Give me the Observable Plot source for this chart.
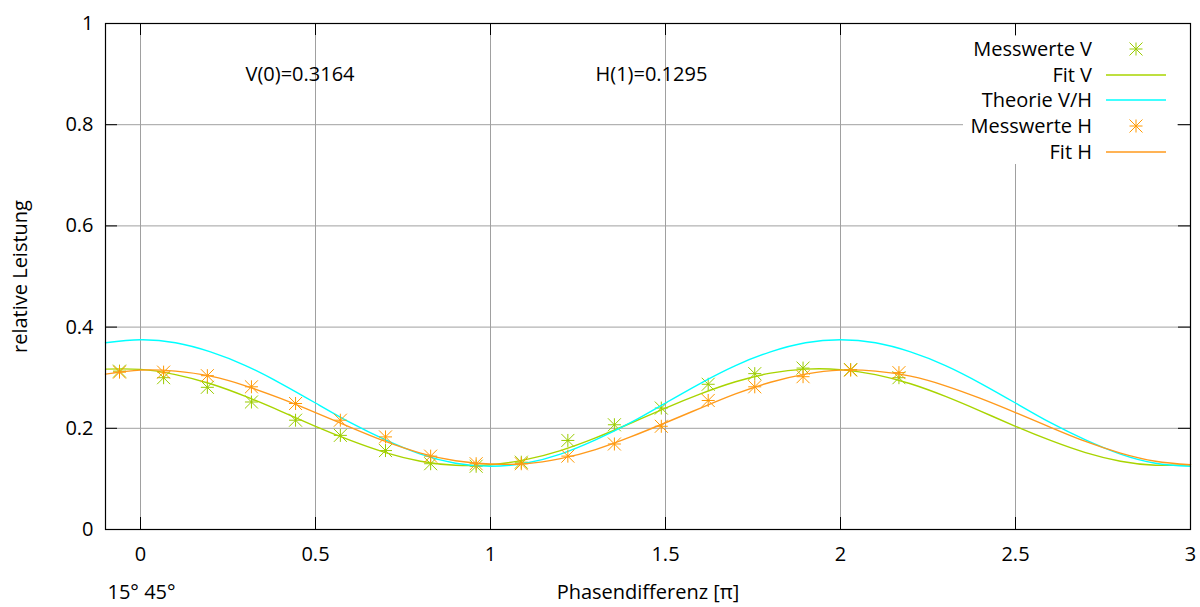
<!DOCTYPE html>
<html>
<head>
<meta charset="utf-8">
<script src="https://cdn.jsdelivr.net/npm/d3@7"></script>
<script src="https://cdn.jsdelivr.net/npm/@observablehq/plot@0.6"></script>
<style>
  body { margin: 0; background: #fff; }
  #chart { position: relative; width: 1200px; height: 607px; font-family: "Open Sans", sans-serif; }
  #legend { position: absolute; left: 963px; top: 36px; width: 214px; height: 128px; background: #fff; }
  #legend .row { position: absolute; left: 0; width: 214px; height: 26px; }
  #legend .lab { position: absolute; right: 85px; top: 0; line-height: 26px; font-size: 20px; color: #000; white-space: nowrap; }
  #legend svg { position: absolute; left: 140px; top: 0; }
</style>
</head>
<body>
<div id="chart"></div>
<script>
// Messpunkte (Phasendifferenz in Einheiten von π)
const phasePts = [-0.060, 0.066, 0.191, 0.317, 0.443, 0.571, 0.700, 0.829, 0.959, 1.088, 1.221, 1.354, 1.488, 1.622, 1.755, 1.893, 2.029, 2.167];
const messV = [0.313, 0.300, 0.281, 0.252, 0.216, 0.186, 0.156, 0.130, 0.125, 0.133, 0.176, 0.207, 0.240, 0.287, 0.308, 0.319, 0.316, 0.300];
const messH = [0.311, 0.311, 0.304, 0.282, 0.249, 0.216, 0.183, 0.145, 0.130, 0.130, 0.145, 0.169, 0.204, 0.255, 0.282, 0.302, 0.315, 0.310];

const phaseGrid = [-0.1, 0.0, 0.1, 0.2, 0.3, 0.4, 0.5, 0.6, 0.7, 0.8, 0.9, 1.0, 1.1, 1.2, 1.3, 1.4, 1.5, 1.6, 1.7, 1.8, 1.9, 2.0, 2.1, 2.2, 2.3, 2.4, 2.5, 2.6, 2.7, 2.8, 2.9, 3.0];
const fitV = [0.317, 0.3164, 0.306, 0.288, 0.263, 0.234, 0.204, 0.176, 0.152, 0.135, 0.127, 0.128, 0.138, 0.156, 0.181, 0.210, 0.240, 0.268, 0.292, 0.309, 0.317, 0.316, 0.306, 0.288, 0.263, 0.234, 0.204, 0.176, 0.152, 0.135, 0.127, 0.128];
const theorie = [0.369, 0.375, 0.369, 0.351, 0.324, 0.289, 0.250, 0.211, 0.177, 0.149, 0.131, 0.125, 0.131, 0.149, 0.177, 0.211, 0.250, 0.289, 0.324, 0.351, 0.369, 0.375, 0.369, 0.351, 0.324, 0.289, 0.250, 0.211, 0.177, 0.149, 0.131, 0.125];
const fitH = [0.307, 0.315, 0.313, 0.303, 0.284, 0.259, 0.231, 0.202, 0.174, 0.151, 0.136, 0.1295, 0.130, 0.140, 0.158, 0.183, 0.211, 0.240, 0.268, 0.291, 0.307, 0.315, 0.313, 0.303, 0.284, 0.259, 0.231, 0.202, 0.174, 0.151, 0.135, 0.128];

// Achsen-Ticks
const xTicks = [0, 0.5, 1, 1.5, 2, 2.5, 3];
const yTicks = [0, 0.2, 0.4, 0.6, 0.8, 1];

// Beschriftungen im Diagramm
const noteText = ["V(0)=0.3164", "H(1)=0.1295"];
const noteX = [0.3, 1.3];
const noteY = [0.9, 0.9];

// Legende
const legendLabels = ["Messwerte V", "Fit V", "Theorie V/H", "Messwerte H", "Fit H"];
const legendKinds = ["points", "line", "line", "points", "line"];

const colV = "#99cc00", colFitV = "#a8d400", colTheo = "#00ffff", colH = "#ff9900", colFitH = "#ff9a1c";
const legendColors = [colV, colFitV, colTheo, colH, colFitH];

// Sternsymbol (+ und x überlagert)
const asterisk = {
  draw(context, size) {
    const s = Math.sqrt(size / Math.PI);
    context.moveTo(-s, 0); context.lineTo(s, 0);
    context.moveTo(0, -s); context.lineTo(0, s);
    context.moveTo(-s, -s); context.lineTo(s, s);
    context.moveTo(-s, s); context.lineTo(s, -s);
  }
};

const ptsV = phasePts.map((x, i) => ({x, y: messV[i]}));
const ptsH = phasePts.map((x, i) => ({x, y: messH[i]}));
const curveV = phaseGrid.map((x, i) => ({x, y: fitV[i]}));
const curveT = phaseGrid.map((x, i) => ({x, y: theorie[i]}));
const curveH = phaseGrid.map((x, i) => ({x, y: fitH[i]}));
const notes = noteText.map((t, i) => ({t, x: noteX[i], y: noteY[i]}));

const W = 1200, H = 607, mL = 105, mR = 10, mT = 23, mB = 78;
const innerW = W - mL - mR, innerH = H - mT - mB, tickLen = 12;

const chart = Plot.plot({
  width: W, height: H,
  marginLeft: mL, marginRight: mR, marginTop: mT, marginBottom: mB,
  style: {fontFamily: "'Open Sans', sans-serif", fontSize: "20px", color: "#000", background: "#fff"},
  x: {domain: [-0.1, 3]},
  y: {domain: [0, 1]},
  marks: [
    Plot.gridX(xTicks, {stroke: "#a0a0a0", strokeOpacity: 1}),
    Plot.gridY(yTicks, {stroke: "#a0a0a0", strokeOpacity: 1}),
    Plot.axisX(xTicks, {tickSize: 0, tickPadding: 17, label: null, tickFormat: d => String(d), fill: "#000"}),
    Plot.axisY(yTicks, {tickSize: 0, tickPadding: 12, label: null, tickFormat: d => String(d), fill: "#000"}),
    // nach innen zeigende Ticks auf allen vier Seiten
    Plot.ruleX(xTicks, {stroke: "#000", insetTop: innerH - tickLen}),
    Plot.ruleX(xTicks, {stroke: "#000", insetBottom: innerH - tickLen}),
    Plot.ruleY(yTicks, {stroke: "#000", insetRight: innerW - tickLen}),
    Plot.ruleY(yTicks, {stroke: "#000", insetLeft: innerW - tickLen}),
    Plot.dot(ptsV, {x: "x", y: "y", symbol: asterisk, r: 6.5, stroke: colV, fill: "none", strokeWidth: 1}),
    Plot.line(curveV, {x: "x", y: "y", stroke: colFitV, strokeWidth: 1.4, curve: "natural"}),
    Plot.line(curveT, {x: "x", y: "y", stroke: colTheo, strokeWidth: 1.4, curve: "natural"}),
    Plot.dot(ptsH, {x: "x", y: "y", symbol: asterisk, r: 6.5, stroke: colH, fill: "none", strokeWidth: 1}),
    Plot.line(curveH, {x: "x", y: "y", stroke: colFitH, strokeWidth: 1.4, curve: "natural"}),
    Plot.text(notes, {x: "x", y: "y", text: "t", textAnchor: "start", fill: "#000"}),
    Plot.text(["Phasendifferenz [π]"], {frameAnchor: "bottom", dy: 63, lineAnchor: "middle", fill: "#000"}),
    Plot.text(["15° 45°"], {frameAnchor: "bottom-left", dy: 63, dx: 2, lineAnchor: "middle", textAnchor: "start", fill: "#000"}),
    Plot.text(["relative Leistung"], {frameAnchor: "left", dx: -85, rotate: -90, textAnchor: "middle", fill: "#000"}),
    Plot.frame({stroke: "#000", strokeWidth: 1.2})
  ]
});

const host = document.getElementById("chart");
host.appendChild(chart);

// Legende oben rechts mit weißem Hintergrund
const legend = document.createElement("div");
legend.id = "legend";
const rowTops = [0, 25.7, 51.4, 77.1, 102.8];
legendLabels.forEach((lab, i) => {
  const row = document.createElement("div");
  row.className = "row";
  row.style.top = rowTops[i] + "px";
  const span = document.createElement("span");
  span.className = "lab";
  span.textContent = lab;
  row.appendChild(span);
  const svg = d3.create("svg").attr("width", 66).attr("height", 26);
  if (legendKinds[i] === "line") {
    svg.append("line").attr("x1", 3).attr("x2", 63).attr("y1", 13).attr("y2", 13)
      .attr("stroke", legendColors[i]).attr("stroke-width", 1.6);
  } else {
    const p = d3.path();
    asterisk.draw(p, Math.PI * 6.5 * 6.5);
    svg.append("path").attr("d", p.toString()).attr("transform", "translate(33,13)")
      .attr("stroke", legendColors[i]).attr("fill", "none");
  }
  row.appendChild(svg.node());
  legend.appendChild(row);
});
host.appendChild(legend);
</script>
</body>
</html>
